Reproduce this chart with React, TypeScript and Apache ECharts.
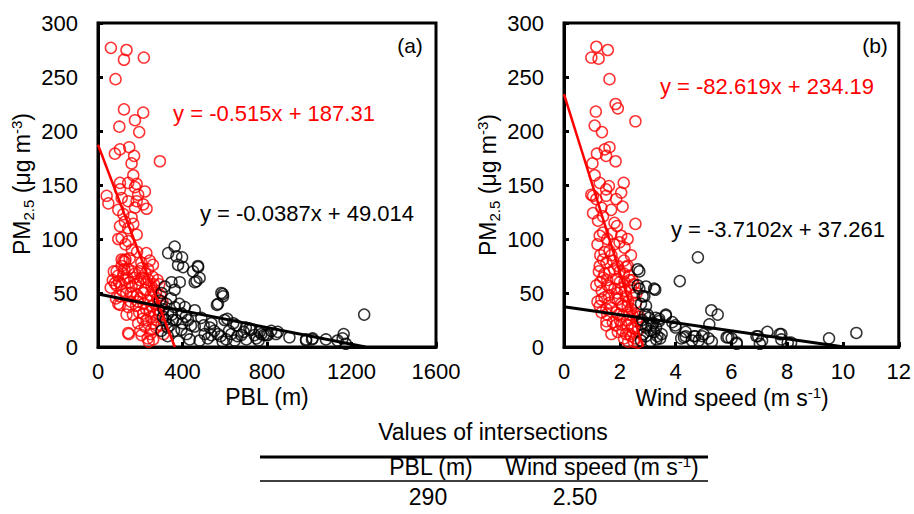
import React, { useEffect, useRef } from "react";
import * as echarts from "echarts";

// PBL (m), PM2.5 — red group
const pblRed: number[][] = [
  [61, 277], [135, 275], [123, 266], [217, 268], [83, 248], [123, 220], [214, 217], [175, 210], [101, 204], [195, 199],
  [293, 172], [80, 179], [104, 183], [148, 185], [171, 177], [159, 170], [167, 159], [104, 152], [143, 152], [183, 151],
  [222, 144], [41, 140], [49, 133], [104, 146], [175, 148], [190, 141], [112, 138], [143, 135], [183, 135], [214, 132],
  [96, 127], [120, 123], [159, 120], [175, 129], [230, 128], [127, 116], [167, 114], [104, 112], [143, 110], [112, 101],
  [143, 98], [96, 100], [183, 104], [229, 87], [112, 81], [127, 79],
  [88, 70], [112, 75], [143, 72], [175, 68], [206, 73], [237, 72], [259, 65], [80, 59], [127, 62], [159, 56],
  [190, 59], [222, 53], [253, 56], [274, 50], [104, 47], [134, 50], [166, 47], [96, 40], [143, 37], [190, 42],
  [237, 43], [269, 40], [214, 31], [245, 33], [284, 34], [143, 13], [222, 19], [253, 16], [206, 11], [261, 7],
  [230, 25], [277, 25], [190, 22], [88, 57], [104, 39], [135, 30], [146, 12], [120, 80], [150, 82], [200, 62],
  [230, 60], [260, 52], [280, 45], [250, 28], [200, 45], [170, 64], [120, 68], [155, 50], [300, 20], [290, 58],
  [240, 5], [215, 50], [100, 60], [130, 81], [270, 30], [60, 55], [310, 12],
  [70, 62], [95, 66], [110, 58], [125, 72], [138, 64], [150, 60], [162, 70], [178, 58], [185, 48], [198, 70],
  [210, 64], [225, 68], [240, 62], [250, 48], [265, 58], [282, 62], [295, 48], [305, 42], [290, 30], [275, 18],
  [262, 22], [248, 12], [235, 8], [228, 35], [212, 26], [200, 15], [195, 32], [180, 38], [165, 30], [155, 42],
  [115, 52], [85, 45], [75, 70], [130, 95], [160, 90], [185, 88], [205, 78], [245, 80], [260, 76], [215, 40],
  [255, 38], [300, 38]
];

// PBL (m), PM2.5 — black group
const pblBlack: number[][] = [
  [363, 93], [332, 87], [371, 84], [398, 83], [379, 76], [403, 74], [474, 74], [450, 70], [481, 64], [458, 60],
  [348, 60], [387, 60], [316, 56], [363, 53], [584, 50], [592, 47], [568, 40], [301, 50], [293, 43], [324, 40],
  [363, 37], [411, 37], [458, 34], [395, 31], [332, 31], [308, 28], [355, 25], [426, 25], [489, 27], [537, 22],
  [599, 25], [458, 19], [395, 16], [505, 12], [537, 11], [568, 12], [631, 12], [678, 11], [725, 16], [773, 12],
  [434, 7], [481, 6], [607, 7], [647, 6], [702, 7], [804, 11], [466, 61], [473, 75], [591, 49], [563, 39],
  [612, 26], [655, 20], [717, 17], [765, 14], [843, 12], [985, 7], [1016, 8], [1079, 7], [1163, 12], [1158, 8],
  [1173, 3], [1260, 30], [785, 11], [906, 9], [851, 14], [796, 11], [741, 11], [1134, 6], [1013, 7], [985, 6],
  [340, 20], [360, 15], [420, 12], [440, 20], [520, 8], [550, 15], [580, 10], [620, 15], [660, 10], [690, 14],
  [750, 8], [820, 15], [330, 10], [380, 5], [500, 20], [640, 22], [700, 18], [760, 6], [590, 5], [530, 18],
  [310, 35], [320, 25], [345, 45], [350, 30], [370, 25], [385, 40], [400, 22], [415, 28], [330, 18], [300, 15]
];

// Wind speed (m s-1), PM2.5 — red group
const windRed: number[][] = [
  [1.16, 278], [1.57, 275], [0.98, 268], [1.24, 267], [1.63, 248], [1.14, 218], [1.85, 225], [1.93, 221], [2.56, 209], [1.1, 205],
  [1.36, 199], [1.46, 183], [1.63, 185], [1.18, 179], [1.51, 177], [1.85, 172], [1.02, 170], [1.1, 159], [1.28, 152], [1.61, 149],
  [1.51, 146], [2.14, 152], [2.05, 143], [1.04, 140], [0.98, 141], [1.16, 137], [1.51, 140], [1.87, 137], [1.34, 129], [1.69, 127],
  [1.04, 124], [1.4, 121], [1.22, 117], [1.81, 115], [2.56, 114], [1.4, 106], [1.28, 103], [2.05, 103], [2.28, 100], [1.99, 97],
  [2.17, 92], [1.63, 89], [1.4, 81], [1.52, 78], [1.75, 80], [1.28, 75], [1.93, 75], [2.22, 74], [1.63, 69], [1.4, 64],
  [1.87, 63], [1.16, 57], [2.17, 60], [2.34, 66], [1.57, 57], [1.81, 54], [2.05, 54], [1.34, 44], [1.63, 41], [1.93, 44],
  [2.22, 47], [2.28, 38], [1.52, 35], [1.87, 32], [2.11, 29], [1.75, 23], [2.05, 21], [2.28, 20], [1.93, 14], [2.22, 12],
  [2.4, 10], [2.52, 17], [2.46, 29], [2.58, 41], [1.28, 38], [1.52, 24], [1.52, 20], [2.64, 4], [2.28, 75], [1.45, 68],
  [1.7, 85], [2.0, 70], [2.4, 55], [2.5, 48], [1.3, 60], [1.6, 48], [2.1, 38], [2.35, 30], [1.9, 50], [2.0, 25],
  [2.45, 62], [1.45, 88], [1.2, 42], [2.6, 24], [2.3, 5], [2.55, 8],
  [1.25, 70], [1.35, 52], [1.45, 46], [1.55, 62], [1.65, 55], [1.7, 36], [1.8, 72], [1.85, 45], [1.95, 30], [2.0, 60],
  [2.05, 40], [2.1, 15], [2.15, 68], [2.2, 52], [2.25, 25], [2.3, 42], [2.35, 62], [2.4, 35], [2.45, 18], [2.5, 58],
  [2.55, 30], [2.6, 50], [2.65, 15], [2.7, 28], [2.5, 5], [2.35, 12], [2.15, 8], [1.85, 20], [1.7, 12], [1.55, 30],
  [1.35, 32], [1.3, 85], [1.55, 100], [1.7, 105], [1.8, 95], [2.15, 80], [2.4, 85], [1.2, 95], [1.9, 112], [2.1, 130]
];

// Wind speed (m s-1), PM2.5 — black group
const windBlack: number[][] = [
  [2.64, 72], [2.7, 54], [2.94, 56], [3.23, 54], [2.64, 57], [2.82, 47], [2.76, 40], [2.94, 38], [4.8, 83], [4.15, 61],
  [3.05, 27], [2.76, 21], [2.94, 18], [3.29, 27], [3.65, 29], [3.41, 24], [3.23, 14], [3.31, 7], [2.94, 10], [2.76, 6],
  [3.88, 23], [3.99, 20], [4.36, 14], [4.3, 9], [4.65, 10], [5.28, 34], [5.51, 30], [5.21, 21], [4.71, 10], [4.95, 10],
  [5.18, 8], [4.59, 6], [4.83, 6], [5.83, 9], [6.01, 8], [6.19, 3], [6.9, 10], [7.29, 14], [7.02, 3], [7.79, 12],
  [7.79, 7], [8.02, 4], [9.5, 8], [10.48, 13], [2.7, 70], [3.27, 53], [2.88, 47], [3.65, 30], [7.73, 12], [6.96, 10],
  [8.14, 4], [6.19, 4], [5.89, 9], [4.36, 10], [4.0, 18], [3.41, 26], [3.1, 15], [3.35, 10], [3.5, 12], [4.2, 8],
  [5.0, 12], [5.3, 5], [3.0, 30], [3.15, 20], [7.1, 6],
  [2.8, 25], [2.9, 30], [3.0, 20], [3.2, 22], [3.3, 18], [3.45, 8], [2.85, 12], [3.1, 5]
];

// Regression fits: [slope, intercept]
const fitPblRed = [-0.515, 187.31];
const fitPblBlack = [-0.0387, 49.014];
const fitWindRed = [-82.619, 234.19];
const fitWindBlack = [-3.7102, 37.261];

const eqPblRed = "y = -0.515x + 187.31";
const eqPblBlack = "y = -0.0387x + 49.014";
const eqWindRed = "y = -82.619x + 234.19";
const eqWindBlack = "y = -3.7102x + 37.261";

// Axis ranges: [min, max, interval]
const pblAxis = [0, 1600, 400];
const windAxis = [0, 12, 2];
const pmAxis = [0, 300, 50];

// Table
const tableTitle = "Values of intersections";
const intersectPbl = "290";
const intersectWind = "2.50";

const FONT = "'Liberation Sans', Arial, Helvetica, sans-serif";

function fitLine(fit: number[]) {
  const [m, b] = fit;
  return [[0, b], [-b / m, 0]];
}

const rich = {
  a: { fontSize: 23, lineHeight: 27, fontFamily: FONT, color: "#000" },
  sub: { fontSize: 15, lineHeight: 15, fontFamily: FONT, color: "#000", verticalAlign: "bottom" },
  sup: { fontSize: 15, lineHeight: 15, fontFamily: FONT, color: "#000", verticalAlign: "top" },
};

function plainText(text: string, x: number, y: number, color: string, size = 22) {
  return {
    type: "text",
    x,
    y,
    style: { text, fill: color, font: `${size}px ${FONT}`, align: "center", verticalAlign: "middle" },
    z: 100,
  };
}

function richText(text: string, x: number, y: number, rotation = 0) {
  return {
    type: "text",
    x,
    y,
    rotation,
    style: { text, rich, align: "center", verticalAlign: "middle", fill: "#000" },
    z: 100,
  };
}

export default function App() {
  const ref = useRef<HTMLDivElement>(null);
  useEffect(() => {
    if (!ref.current) return;
    const chart = echarts.init(ref.current, undefined, { renderer: "svg" });

    const axisCommon = {
      axisLine: { show: true, lineStyle: { color: "#000", width: 3 } },
      axisTick: { show: true, inside: true, length: 5, lineStyle: { color: "#000", width: 3 } },
      splitLine: { show: false },
    };
    const fmt = (v: number) => String(v);
    const xLabel = { fontSize: 22, color: "#000", fontFamily: FONT, margin: 13, formatter: fmt };
    const yLabel = { fontSize: 22, color: "#000", fontFamily: FONT, margin: 20, formatter: fmt };

    const scatterStyle = (color: string) => ({
      symbol: "circle",
      symbolSize: 11,
      itemStyle: { color: "rgba(0,0,0,0)", borderColor: color, borderWidth: 1.5 },
    });

    chart.setOption({
      animation: false,
      backgroundColor: "#fff",
      grid: [
        { left: 98, top: 23, width: 338, height: 324, show: true, borderColor: "#000", borderWidth: 3, backgroundColor: "rgba(0,0,0,0)" },
        { left: 564, top: 23, width: 338, height: 324, show: true, borderColor: "#000", borderWidth: 3, backgroundColor: "rgba(0,0,0,0)" },
      ],
      xAxis: [
        { type: "value", gridIndex: 0, min: pblAxis[0], max: pblAxis[1], interval: pblAxis[2], ...axisCommon, axisLabel: xLabel },
        { type: "value", gridIndex: 1, min: windAxis[0], max: windAxis[1], interval: windAxis[2], ...axisCommon, axisLabel: xLabel },
      ],
      yAxis: [
        { type: "value", gridIndex: 0, min: pmAxis[0], max: pmAxis[1], interval: pmAxis[2], ...axisCommon, axisLabel: yLabel },
        { type: "value", gridIndex: 1, min: pmAxis[0], max: pmAxis[1], interval: pmAxis[2], ...axisCommon, axisLabel: yLabel },
      ],
      series: [
        { type: "scatter", xAxisIndex: 0, yAxisIndex: 0, data: pblRed, ...scatterStyle("#ff0000"), z: 2 },
        { type: "scatter", xAxisIndex: 0, yAxisIndex: 0, data: pblBlack, ...scatterStyle("#000000"), z: 3 },
        { type: "line", xAxisIndex: 0, yAxisIndex: 0, data: fitLine(fitPblRed), showSymbol: false, lineStyle: { color: "#ff0000", width: 2.5 }, z: 4 },
        { type: "line", xAxisIndex: 0, yAxisIndex: 0, data: fitLine(fitPblBlack), showSymbol: false, lineStyle: { color: "#000", width: 3 }, z: 5 },
        { type: "scatter", xAxisIndex: 1, yAxisIndex: 1, data: windRed, ...scatterStyle("#ff0000"), z: 2 },
        { type: "scatter", xAxisIndex: 1, yAxisIndex: 1, data: windBlack, ...scatterStyle("#000000"), z: 3 },
        { type: "line", xAxisIndex: 1, yAxisIndex: 1, data: fitLine(fitWindRed), showSymbol: false, lineStyle: { color: "#ff0000", width: 2.5 }, z: 4 },
        { type: "line", xAxisIndex: 1, yAxisIndex: 1, data: fitLine(fitWindBlack), showSymbol: false, lineStyle: { color: "#000", width: 3 }, z: 5 },
      ],
      graphic: [
        plainText(eqPblRed, 274, 113, "#ff0000"),
        plainText(eqPblBlack, 307, 213, "#000"),
        plainText("(a)", 410, 45, "#000", 21),
        plainText(eqWindRed, 767, 86, "#ff0000"),
        plainText(eqWindBlack, 778, 229, "#000"),
        plainText("(b)", 875, 45, "#000", 21),
        plainText("PBL (m)", 267, 397, "#000", 23),
        richText("{a|Wind speed (m s}{sup|-1}{a|)}", 732, 398),
        richText("{a|PM}{sub|2.5}{a| (μg m}{sup|-3}{a|)}", 22, 184, Math.PI / 2),
        richText("{a|PM}{sub|2.5}{a| (μg m}{sup|-3}{a|)}", 488, 185, Math.PI / 2),
        plainText(tableTitle, 493, 432, "#000", 23),
        { type: "line", shape: { x1: 260, y1: 457, x2: 708, y2: 457 }, style: { stroke: "#000", lineWidth: 3 } },
        plainText("PBL (m)", 431, 467, "#000", 23),
        richText("{a|Wind speed (m s}{sup|-1}{a|)}", 602, 467),
        { type: "line", shape: { x1: 260, y1: 481, x2: 708, y2: 481 }, style: { stroke: "#000", lineWidth: 1.3 } },
        plainText(intersectPbl, 428, 497, "#000", 23),
        plainText(intersectWind, 575, 497, "#000", 23),
      ],
    });
    return () => chart.dispose();
  }, []);
  return <div ref={ref} style={{ position: "fixed", left: 0, top: 0, width: 914, height: 514 }} />;
}
